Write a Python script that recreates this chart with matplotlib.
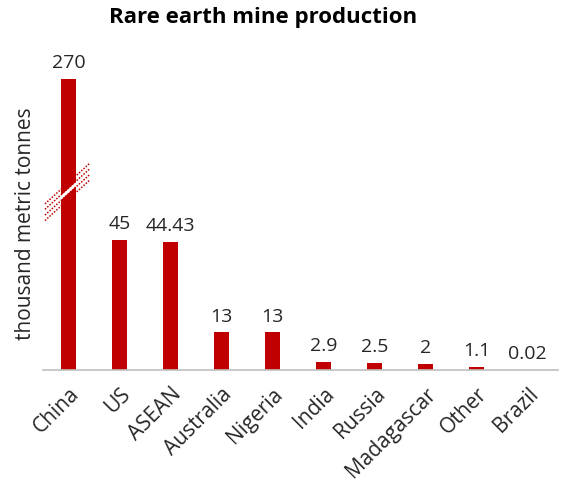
import numpy as np
import matplotlib.pyplot as plt
from matplotlib.patches import Polygon

plt.rcParams['font.family'] = ['Open Sans', 'DejaVu Sans']

countries = ['China', 'US', 'ASEAN', 'Australia', 'Nigeria', 'India',
             'Russia', 'Madagascar', 'Other', 'Brazil']
production = [270, 45, 44.43, 13, 13, 2.9, 2.5, 2, 1.1, 0.02]
value_labels = ['270', '45', '44.43', '13', '13', '2.9', '2.5', '2', '1.1', '0.02']

# axis is broken above BREAK; values beyond it are squeezed
BREAK = 62
SQUEEZE = 0.186


def fwd(v):
    v = np.asarray(v, dtype=float)
    return np.where(v <= BREAK, v, BREAK + (v - BREAK) * SQUEEZE)


def inv(t):
    t = np.asarray(t, dtype=float)
    return np.where(t <= BREAK, t, BREAK + (t - BREAK) / SQUEEZE)


red = '#C00000'
txt = '#262626'
fig = plt.figure(figsize=(5.65, 4.88), dpi=100)
ax = fig.add_axes([0.076, 0.2418, 0.912, 0.651])
ax.set_yscale('function', functions=(fwd, inv))

x = np.arange(len(countries))
ax.bar(x, production, width=0.31, color=red, zorder=2)
ax.set_xlim(-0.5, len(countries) - 0.4)
ax.set_ylim(0, float(inv(110)))

for xi, v, lab in zip(x, production, value_labels):
    ax.annotate(lab, (xi, v), xytext=(0, 5), textcoords='offset points',
                ha='center', va='bottom', fontsize=14, color=txt)

# break marker across the China bar
ty = float(fwd(BREAK))
fy = lambda t: float(inv(t))
slope = 16.0
bw = 0.16
gap = [(-bw, ty - 0.8 - bw * slope), (bw, ty - 0.8 + bw * slope),
       (bw, ty + 0.8 + bw * slope), (-bw, ty + 0.8 - bw * slope)]
ax.add_patch(Polygon([(px, fy(py)) for px, py in gap], closed=True,
                     facecolor='white', edgecolor='none', zorder=3))
for off in (-2.9, -1.0, 1.0, 2.9):
    xs = np.array([-0.46, 0.42])
    ts = ty + off + xs * slope
    ax.plot(xs, [fy(t) for t in ts], color=red, lw=1.1, ls=(0, (1.0, 1.0)),
            zorder=4)

ax.set_xticks(x)
ax.set_xticklabels(countries, rotation=45, ha='right', rotation_mode='anchor',
                   fontsize=15, color=txt)
ax.tick_params(axis='x', length=0, pad=10)
ax.set_yticks([])
for s in ('top', 'right', 'left'):
    ax.spines[s].set_visible(False)
ax.spines['bottom'].set_color('#BFBFBF')
ax.spines['bottom'].set_linewidth(1.2)
ax.set_ylabel('thousand metric tonnes', fontsize=15, color=txt)
ax.yaxis.set_label_coords(-0.014, 0.462)

fig.suptitle('Rare earth mine production', fontsize=16, fontweight='bold',
             x=0.466, y=0.985)
fig.savefig('out.png', dpi=100)
